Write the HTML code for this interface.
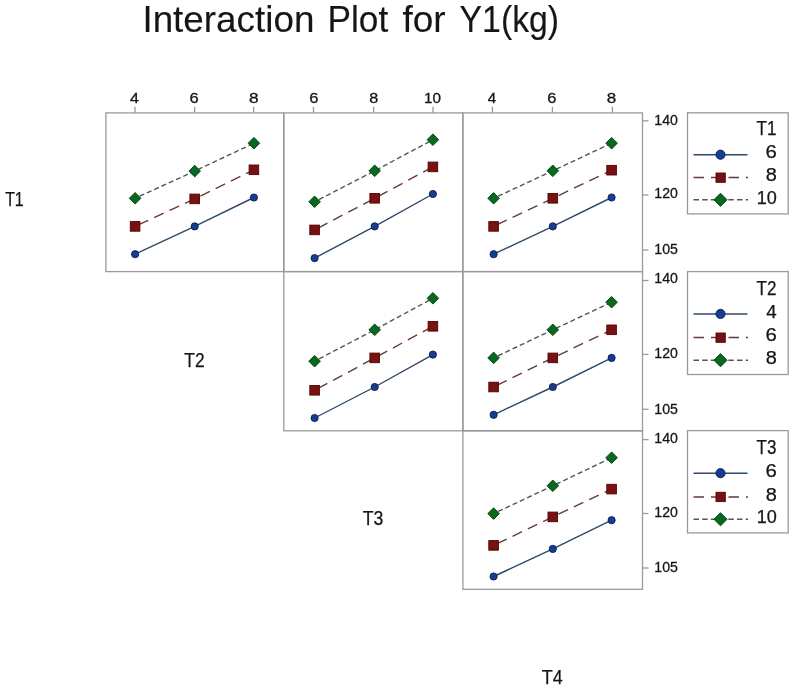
<!DOCTYPE html><html><head><meta charset="utf-8"><style>html,body{margin:0;padding:0;background:#fff;width:800px;height:696px;overflow:hidden}svg{display:block;will-change:transform}text{font-family:"Liberation Sans",sans-serif;fill:#151515;stroke:#151515;stroke-width:0.3px}</style></head><body>
<svg width="800" height="696" viewBox="0 0 800 696">
<text x="142.41" y="32.30" font-size="37" textLength="172.00" lengthAdjust="spacingAndGlyphs" style="stroke-width:0.12px">Interaction</text>
<text x="327.51" y="32.30" font-size="37" textLength="60.74" lengthAdjust="spacingAndGlyphs" style="stroke-width:0.12px">Plot</text>
<text x="402.48" y="32.30" font-size="37" textLength="43.15" lengthAdjust="spacingAndGlyphs" style="stroke-width:0.12px">for</text>
<text x="459.56" y="32.30" font-size="37" textLength="99.55" lengthAdjust="spacingAndGlyphs" style="stroke-width:0.12px">Y1(kg)</text>
<rect x="105.9" y="112.9" width="177.9" height="158.70000000000002" fill="none" stroke="#9a9a9a" stroke-width="1.3"/>
<rect x="283.8" y="112.9" width="179.09999999999997" height="158.70000000000002" fill="none" stroke="#9a9a9a" stroke-width="1.3"/>
<rect x="462.9" y="112.9" width="179.60000000000002" height="158.70000000000002" fill="none" stroke="#9a9a9a" stroke-width="1.3"/>
<rect x="283.8" y="271.6" width="179.09999999999997" height="159.2" fill="none" stroke="#9a9a9a" stroke-width="1.3"/>
<rect x="462.9" y="271.6" width="179.60000000000002" height="159.2" fill="none" stroke="#9a9a9a" stroke-width="1.3"/>
<rect x="462.9" y="430.8" width="179.60000000000002" height="158.49999999999994" fill="none" stroke="#9a9a9a" stroke-width="1.3"/>
<line x1="135.0" y1="106.8" x2="135.0" y2="112.9" stroke="#9a9a9a" stroke-width="1.3"/>
<text x="129.93" y="102.50" font-size="14.5" textLength="8.94" lengthAdjust="spacingAndGlyphs" style="stroke-width:0.3px">4</text>
<line x1="194.7" y1="106.8" x2="194.7" y2="112.9" stroke="#9a9a9a" stroke-width="1.3"/>
<text x="189.46" y="102.50" font-size="14.5" textLength="9.17" lengthAdjust="spacingAndGlyphs" style="stroke-width:0.3px">6</text>
<line x1="253.6" y1="106.8" x2="253.6" y2="112.9" stroke="#9a9a9a" stroke-width="1.3"/>
<text x="249.06" y="102.50" font-size="14.5" textLength="9.58" lengthAdjust="spacingAndGlyphs" style="stroke-width:0.3px">8</text>
<line x1="313.5" y1="106.8" x2="313.5" y2="112.9" stroke="#9a9a9a" stroke-width="1.3"/>
<text x="309.16" y="102.50" font-size="14.5" textLength="9.17" lengthAdjust="spacingAndGlyphs" style="stroke-width:0.3px">6</text>
<line x1="373.6" y1="106.8" x2="373.6" y2="112.9" stroke="#9a9a9a" stroke-width="1.3"/>
<text x="369.30" y="102.50" font-size="14.5" textLength="8.99" lengthAdjust="spacingAndGlyphs" style="stroke-width:0.3px">8</text>
<line x1="433.0" y1="106.8" x2="433.0" y2="112.9" stroke="#9a9a9a" stroke-width="1.3"/>
<text x="424.09" y="102.50" font-size="14.5" textLength="17.01" lengthAdjust="spacingAndGlyphs" style="stroke-width:0.3px">10</text>
<line x1="492.4" y1="106.8" x2="492.4" y2="112.9" stroke="#9a9a9a" stroke-width="1.3"/>
<text x="487.65" y="102.50" font-size="14.5" textLength="8.39" lengthAdjust="spacingAndGlyphs" style="stroke-width:0.3px">4</text>
<line x1="552.4" y1="106.8" x2="552.4" y2="112.9" stroke="#9a9a9a" stroke-width="1.3"/>
<text x="547.16" y="102.50" font-size="14.5" textLength="9.17" lengthAdjust="spacingAndGlyphs" style="stroke-width:0.3px">6</text>
<line x1="612.4" y1="106.8" x2="612.4" y2="112.9" stroke="#9a9a9a" stroke-width="1.3"/>
<text x="606.87" y="102.50" font-size="14.5" textLength="9.47" lengthAdjust="spacingAndGlyphs" style="stroke-width:0.3px">8</text>
<line x1="642.5" y1="120.8" x2="648.5" y2="120.8" stroke="#9a9a9a" stroke-width="1.3"/>
<text x="654.33" y="124.80" font-size="15" textLength="23.53" lengthAdjust="spacingAndGlyphs" style="stroke-width:0.3px">140</text>
<line x1="642.5" y1="195.0" x2="648.5" y2="195.0" stroke="#9a9a9a" stroke-width="1.3"/>
<text x="654.33" y="198.10" font-size="15" textLength="23.53" lengthAdjust="spacingAndGlyphs" style="stroke-width:0.3px">120</text>
<line x1="642.5" y1="250.0" x2="648.5" y2="250.0" stroke="#9a9a9a" stroke-width="1.3"/>
<text x="654.33" y="254.00" font-size="15" textLength="23.57" lengthAdjust="spacingAndGlyphs" style="stroke-width:0.3px">105</text>
<line x1="642.5" y1="280.5" x2="648.5" y2="280.5" stroke="#9a9a9a" stroke-width="1.3"/>
<text x="654.33" y="283.20" font-size="15" textLength="23.53" lengthAdjust="spacingAndGlyphs" style="stroke-width:0.3px">140</text>
<line x1="642.5" y1="354.4" x2="648.5" y2="354.4" stroke="#9a9a9a" stroke-width="1.3"/>
<text x="654.33" y="357.70" font-size="15" textLength="23.53" lengthAdjust="spacingAndGlyphs" style="stroke-width:0.3px">120</text>
<line x1="642.5" y1="409.3" x2="648.5" y2="409.3" stroke="#9a9a9a" stroke-width="1.3"/>
<text x="654.33" y="413.50" font-size="15" textLength="23.57" lengthAdjust="spacingAndGlyphs" style="stroke-width:0.3px">105</text>
<line x1="642.5" y1="439.6" x2="648.5" y2="439.6" stroke="#9a9a9a" stroke-width="1.3"/>
<text x="654.33" y="442.60" font-size="15" textLength="23.53" lengthAdjust="spacingAndGlyphs" style="stroke-width:0.3px">140</text>
<line x1="642.5" y1="513.5" x2="648.5" y2="513.5" stroke="#9a9a9a" stroke-width="1.3"/>
<text x="654.33" y="516.60" font-size="15" textLength="23.53" lengthAdjust="spacingAndGlyphs" style="stroke-width:0.3px">120</text>
<line x1="642.5" y1="568.0" x2="648.5" y2="568.0" stroke="#9a9a9a" stroke-width="1.3"/>
<text x="654.33" y="572.30" font-size="15" textLength="23.57" lengthAdjust="spacingAndGlyphs" style="stroke-width:0.3px">105</text>
<path d="M135.10 254.20 L194.70 226.40 L253.90 197.50" fill="none" stroke="#2e4867" stroke-width="1.4"/>
<path d="M135.10 226.40 L194.70 198.90 L253.90 169.80" fill="none" stroke="#66393b" stroke-width="1.4" stroke-dasharray="10.5 6.5" stroke-dashoffset="-4"/>
<path d="M135.10 198.30 L194.70 171.10 L253.90 143.20" fill="none" stroke="#4a5b4f" stroke-width="1.4" stroke-dasharray="5 3" stroke-dashoffset="-5"/>
<circle cx="135.10" cy="254.20" r="3.6" fill="#163d92" stroke="#0a1f55" stroke-width="0.9"/>
<rect x="130.30" y="221.60" width="9.6" height="9.6" fill="#7a1010" stroke="#4a0606" stroke-width="0.9"/>
<path d="M135.10 192.50L140.90 198.30L135.10 204.10L129.30 198.30Z" fill="#08681f" stroke="#033d10" stroke-width="0.9"/>
<circle cx="194.70" cy="226.40" r="3.6" fill="#163d92" stroke="#0a1f55" stroke-width="0.9"/>
<rect x="189.90" y="194.10" width="9.6" height="9.6" fill="#7a1010" stroke="#4a0606" stroke-width="0.9"/>
<path d="M194.70 165.30L200.50 171.10L194.70 176.90L188.90 171.10Z" fill="#08681f" stroke="#033d10" stroke-width="0.9"/>
<circle cx="253.90" cy="197.50" r="3.6" fill="#163d92" stroke="#0a1f55" stroke-width="0.9"/>
<rect x="249.10" y="165.00" width="9.6" height="9.6" fill="#7a1010" stroke="#4a0606" stroke-width="0.9"/>
<path d="M253.90 137.40L259.70 143.20L253.90 149.00L248.10 143.20Z" fill="#08681f" stroke="#033d10" stroke-width="0.9"/>
<path d="M314.60 258.10 L374.70 226.40 L432.90 194.00" fill="none" stroke="#2e4867" stroke-width="1.4"/>
<path d="M314.60 229.90 L374.70 198.30 L432.90 166.90" fill="none" stroke="#66393b" stroke-width="1.4" stroke-dasharray="10.5 6.5" stroke-dashoffset="-4"/>
<path d="M314.60 201.80 L374.70 170.80 L432.90 139.70" fill="none" stroke="#4a5b4f" stroke-width="1.4" stroke-dasharray="5 3" stroke-dashoffset="-5"/>
<circle cx="314.60" cy="258.10" r="3.6" fill="#163d92" stroke="#0a1f55" stroke-width="0.9"/>
<rect x="309.80" y="225.10" width="9.6" height="9.6" fill="#7a1010" stroke="#4a0606" stroke-width="0.9"/>
<path d="M314.60 196.00L320.40 201.80L314.60 207.60L308.80 201.80Z" fill="#08681f" stroke="#033d10" stroke-width="0.9"/>
<circle cx="374.70" cy="226.40" r="3.6" fill="#163d92" stroke="#0a1f55" stroke-width="0.9"/>
<rect x="369.90" y="193.50" width="9.6" height="9.6" fill="#7a1010" stroke="#4a0606" stroke-width="0.9"/>
<path d="M374.70 165.00L380.50 170.80L374.70 176.60L368.90 170.80Z" fill="#08681f" stroke="#033d10" stroke-width="0.9"/>
<circle cx="432.90" cy="194.00" r="3.6" fill="#163d92" stroke="#0a1f55" stroke-width="0.9"/>
<rect x="428.10" y="162.10" width="9.6" height="9.6" fill="#7a1010" stroke="#4a0606" stroke-width="0.9"/>
<path d="M432.90 133.90L438.70 139.70L432.90 145.50L427.10 139.70Z" fill="#08681f" stroke="#033d10" stroke-width="0.9"/>
<path d="M493.60 254.20 L552.80 226.40 L611.60 197.50" fill="none" stroke="#2e4867" stroke-width="1.4"/>
<path d="M493.60 226.40 L552.80 198.30 L611.60 170.20" fill="none" stroke="#66393b" stroke-width="1.4" stroke-dasharray="10.5 6.5" stroke-dashoffset="-4"/>
<path d="M493.60 198.30 L552.80 170.80 L611.60 143.20" fill="none" stroke="#4a5b4f" stroke-width="1.4" stroke-dasharray="5 3" stroke-dashoffset="-5"/>
<circle cx="493.60" cy="254.20" r="3.6" fill="#163d92" stroke="#0a1f55" stroke-width="0.9"/>
<rect x="488.80" y="221.60" width="9.6" height="9.6" fill="#7a1010" stroke="#4a0606" stroke-width="0.9"/>
<path d="M493.60 192.50L499.40 198.30L493.60 204.10L487.80 198.30Z" fill="#08681f" stroke="#033d10" stroke-width="0.9"/>
<circle cx="552.80" cy="226.40" r="3.6" fill="#163d92" stroke="#0a1f55" stroke-width="0.9"/>
<rect x="548.00" y="193.50" width="9.6" height="9.6" fill="#7a1010" stroke="#4a0606" stroke-width="0.9"/>
<path d="M552.80 165.00L558.60 170.80L552.80 176.60L547.00 170.80Z" fill="#08681f" stroke="#033d10" stroke-width="0.9"/>
<circle cx="611.60" cy="197.50" r="3.6" fill="#163d92" stroke="#0a1f55" stroke-width="0.9"/>
<rect x="606.80" y="165.40" width="9.6" height="9.6" fill="#7a1010" stroke="#4a0606" stroke-width="0.9"/>
<path d="M611.60 137.40L617.40 143.20L611.60 149.00L605.80 143.20Z" fill="#08681f" stroke="#033d10" stroke-width="0.9"/>
<path d="M314.60 418.00 L374.70 387.00 L432.90 354.60" fill="none" stroke="#2e4867" stroke-width="1.4"/>
<path d="M314.60 390.30 L374.70 357.90 L432.90 326.30" fill="none" stroke="#66393b" stroke-width="1.4" stroke-dasharray="10.5 6.5" stroke-dashoffset="-4"/>
<path d="M314.60 361.20 L374.70 329.80 L432.90 298.30" fill="none" stroke="#4a5b4f" stroke-width="1.4" stroke-dasharray="5 3" stroke-dashoffset="-5"/>
<circle cx="314.60" cy="418.00" r="3.6" fill="#163d92" stroke="#0a1f55" stroke-width="0.9"/>
<rect x="309.80" y="385.50" width="9.6" height="9.6" fill="#7a1010" stroke="#4a0606" stroke-width="0.9"/>
<path d="M314.60 355.40L320.40 361.20L314.60 367.00L308.80 361.20Z" fill="#08681f" stroke="#033d10" stroke-width="0.9"/>
<circle cx="374.70" cy="387.00" r="3.6" fill="#163d92" stroke="#0a1f55" stroke-width="0.9"/>
<rect x="369.90" y="353.10" width="9.6" height="9.6" fill="#7a1010" stroke="#4a0606" stroke-width="0.9"/>
<path d="M374.70 324.00L380.50 329.80L374.70 335.60L368.90 329.80Z" fill="#08681f" stroke="#033d10" stroke-width="0.9"/>
<circle cx="432.90" cy="354.60" r="3.6" fill="#163d92" stroke="#0a1f55" stroke-width="0.9"/>
<rect x="428.10" y="321.50" width="9.6" height="9.6" fill="#7a1010" stroke="#4a0606" stroke-width="0.9"/>
<path d="M432.90 292.50L438.70 298.30L432.90 304.10L427.10 298.30Z" fill="#08681f" stroke="#033d10" stroke-width="0.9"/>
<path d="M493.60 414.80 L552.80 387.00 L611.60 357.90" fill="none" stroke="#2e4867" stroke-width="1.4"/>
<path d="M493.60 387.00 L552.80 357.90 L611.60 329.80" fill="none" stroke="#66393b" stroke-width="1.4" stroke-dasharray="10.5 6.5" stroke-dashoffset="-4"/>
<path d="M493.60 357.90 L552.80 329.80 L611.60 302.20" fill="none" stroke="#4a5b4f" stroke-width="1.4" stroke-dasharray="5 3" stroke-dashoffset="-5"/>
<circle cx="493.60" cy="414.80" r="3.6" fill="#163d92" stroke="#0a1f55" stroke-width="0.9"/>
<rect x="488.80" y="382.20" width="9.6" height="9.6" fill="#7a1010" stroke="#4a0606" stroke-width="0.9"/>
<path d="M493.60 352.10L499.40 357.90L493.60 363.70L487.80 357.90Z" fill="#08681f" stroke="#033d10" stroke-width="0.9"/>
<circle cx="552.80" cy="387.00" r="3.6" fill="#163d92" stroke="#0a1f55" stroke-width="0.9"/>
<rect x="548.00" y="353.10" width="9.6" height="9.6" fill="#7a1010" stroke="#4a0606" stroke-width="0.9"/>
<path d="M552.80 324.00L558.60 329.80L552.80 335.60L547.00 329.80Z" fill="#08681f" stroke="#033d10" stroke-width="0.9"/>
<circle cx="611.60" cy="357.90" r="3.6" fill="#163d92" stroke="#0a1f55" stroke-width="0.9"/>
<rect x="606.80" y="325.00" width="9.6" height="9.6" fill="#7a1010" stroke="#4a0606" stroke-width="0.9"/>
<path d="M611.60 296.40L617.40 302.20L611.60 308.00L605.80 302.20Z" fill="#08681f" stroke="#033d10" stroke-width="0.9"/>
<path d="M493.60 576.50 L552.80 548.90 L611.60 520.20" fill="none" stroke="#2e4867" stroke-width="1.4"/>
<path d="M493.60 545.40 L552.80 516.90 L611.60 489.10" fill="none" stroke="#66393b" stroke-width="1.4" stroke-dasharray="10.5 6.5" stroke-dashoffset="-4"/>
<path d="M493.60 513.60 L552.80 485.80 L611.60 457.70" fill="none" stroke="#4a5b4f" stroke-width="1.4" stroke-dasharray="5 3" stroke-dashoffset="-5"/>
<circle cx="493.60" cy="576.50" r="3.6" fill="#163d92" stroke="#0a1f55" stroke-width="0.9"/>
<rect x="488.80" y="540.60" width="9.6" height="9.6" fill="#7a1010" stroke="#4a0606" stroke-width="0.9"/>
<path d="M493.60 507.80L499.40 513.60L493.60 519.40L487.80 513.60Z" fill="#08681f" stroke="#033d10" stroke-width="0.9"/>
<circle cx="552.80" cy="548.90" r="3.6" fill="#163d92" stroke="#0a1f55" stroke-width="0.9"/>
<rect x="548.00" y="512.10" width="9.6" height="9.6" fill="#7a1010" stroke="#4a0606" stroke-width="0.9"/>
<path d="M552.80 480.00L558.60 485.80L552.80 491.60L547.00 485.80Z" fill="#08681f" stroke="#033d10" stroke-width="0.9"/>
<circle cx="611.60" cy="520.20" r="3.6" fill="#163d92" stroke="#0a1f55" stroke-width="0.9"/>
<rect x="606.80" y="484.30" width="9.6" height="9.6" fill="#7a1010" stroke="#4a0606" stroke-width="0.9"/>
<path d="M611.60 451.90L617.40 457.70L611.60 463.50L605.80 457.70Z" fill="#08681f" stroke="#033d10" stroke-width="0.9"/>
<rect x="687.5" y="112.8" width="100.7" height="101.10" fill="none" stroke="#9a9a9a" stroke-width="1.3"/>
<text x="756.52" y="135.00" font-size="19.3" textLength="19.91" lengthAdjust="spacingAndGlyphs" style="stroke-width:0.25px">T1</text>
<line x1="693.5" y1="154.70" x2="747.5" y2="154.70" stroke="#2e4867" stroke-width="1.5"/>
<circle cx="720.5" cy="154.70" r="4.6" fill="#163d92" stroke="#0a1f55" stroke-width="0.9"/>
<text x="765.56" y="158.40" font-size="17.5" textLength="11.34" lengthAdjust="spacingAndGlyphs" style="stroke-width:0.25px">6</text>
<line x1="693.5" y1="177.60" x2="748" y2="177.60" stroke="#66393b" stroke-width="1.5" stroke-dasharray="10.5 7"/>
<rect x="716" y="173.00" width="9.3" height="9.3" fill="#7a1010" stroke="#4a0606" stroke-width="0.9"/>
<text x="765.74" y="181.30" font-size="17.5" textLength="11.12" lengthAdjust="spacingAndGlyphs" style="stroke-width:0.25px">8</text>
<line x1="693.5" y1="199.80" x2="748" y2="199.80" stroke="#4a5b4f" stroke-width="1.5" stroke-dasharray="5.5 3.2"/>
<path d="M720.5 193.20L727.1 199.80L720.5 206.40L713.9 199.80Z" fill="#08681f" stroke="#033d10" stroke-width="0.9"/>
<text x="756.83" y="203.50" font-size="17.5" textLength="20.08" lengthAdjust="spacingAndGlyphs" style="stroke-width:0.25px">10</text>
<rect x="687.5" y="271.6" width="100.7" height="102.90" fill="none" stroke="#9a9a9a" stroke-width="1.3"/>
<text x="756.52" y="294.50" font-size="19.3" textLength="19.93" lengthAdjust="spacingAndGlyphs" style="stroke-width:0.25px">T2</text>
<line x1="693.5" y1="313.90" x2="747.5" y2="313.90" stroke="#2e4867" stroke-width="1.5"/>
<circle cx="720.5" cy="313.90" r="4.6" fill="#163d92" stroke="#0a1f55" stroke-width="0.9"/>
<text x="766.17" y="317.60" font-size="17.5" textLength="10.37" lengthAdjust="spacingAndGlyphs" style="stroke-width:0.25px">4</text>
<line x1="693.5" y1="337.60" x2="748" y2="337.60" stroke="#66393b" stroke-width="1.5" stroke-dasharray="10.5 7"/>
<rect x="716" y="333.00" width="9.3" height="9.3" fill="#7a1010" stroke="#4a0606" stroke-width="0.9"/>
<text x="765.56" y="341.30" font-size="17.5" textLength="11.34" lengthAdjust="spacingAndGlyphs" style="stroke-width:0.25px">6</text>
<line x1="693.5" y1="360.20" x2="748" y2="360.20" stroke="#4a5b4f" stroke-width="1.5" stroke-dasharray="5.5 3.2"/>
<path d="M720.5 353.60L727.1 360.20L720.5 366.80L713.9 360.20Z" fill="#08681f" stroke="#033d10" stroke-width="0.9"/>
<text x="765.74" y="363.90" font-size="17.5" textLength="11.12" lengthAdjust="spacingAndGlyphs" style="stroke-width:0.25px">8</text>
<rect x="687.5" y="430.6" width="100.7" height="102.30" fill="none" stroke="#9a9a9a" stroke-width="1.3"/>
<text x="756.53" y="453.50" font-size="19.3" textLength="19.82" lengthAdjust="spacingAndGlyphs" style="stroke-width:0.25px">T3</text>
<line x1="693.5" y1="473.20" x2="747.5" y2="473.20" stroke="#2e4867" stroke-width="1.5"/>
<circle cx="720.5" cy="473.20" r="4.6" fill="#163d92" stroke="#0a1f55" stroke-width="0.9"/>
<text x="765.56" y="476.90" font-size="17.5" textLength="11.34" lengthAdjust="spacingAndGlyphs" style="stroke-width:0.25px">6</text>
<line x1="693.5" y1="496.90" x2="748" y2="496.90" stroke="#66393b" stroke-width="1.5" stroke-dasharray="10.5 7"/>
<rect x="716" y="492.30" width="9.3" height="9.3" fill="#7a1010" stroke="#4a0606" stroke-width="0.9"/>
<text x="765.74" y="500.60" font-size="17.5" textLength="11.12" lengthAdjust="spacingAndGlyphs" style="stroke-width:0.25px">8</text>
<line x1="693.5" y1="519.25" x2="748" y2="519.25" stroke="#4a5b4f" stroke-width="1.5" stroke-dasharray="5.5 3.2"/>
<path d="M720.5 512.65L727.1 519.25L720.5 525.85L713.9 519.25Z" fill="#08681f" stroke="#033d10" stroke-width="0.9"/>
<text x="756.83" y="522.95" font-size="17.5" textLength="20.08" lengthAdjust="spacingAndGlyphs" style="stroke-width:0.25px">10</text>
<text x="5.15" y="205.90" font-size="20" textLength="18.53" lengthAdjust="spacingAndGlyphs" style="stroke-width:0.25px">T1</text>
<text x="184.32" y="366.60" font-size="20" textLength="20.30" lengthAdjust="spacingAndGlyphs" style="stroke-width:0.25px">T2</text>
<text x="362.71" y="525.00" font-size="20" textLength="20.56" lengthAdjust="spacingAndGlyphs" style="stroke-width:0.25px">T3</text>
<text x="541.81" y="684.00" font-size="20" textLength="20.91" lengthAdjust="spacingAndGlyphs" style="stroke-width:0.25px">T4</text>
</svg></body></html>
